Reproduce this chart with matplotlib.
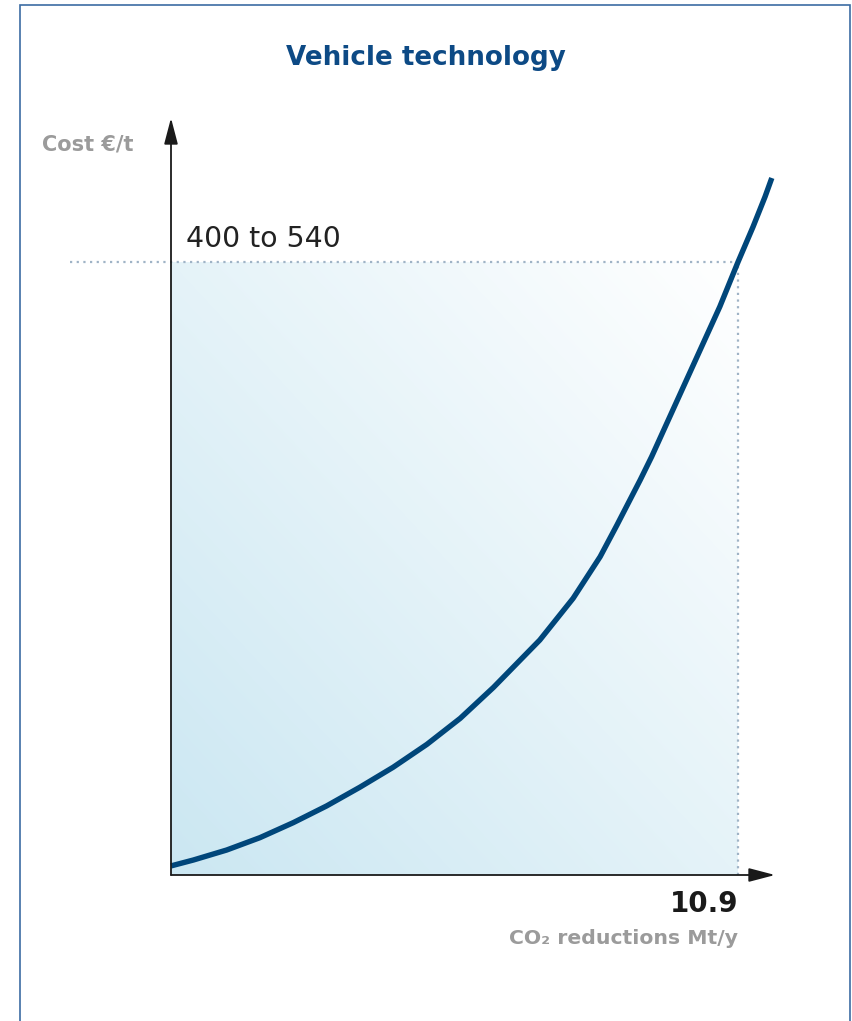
import numpy as np
import matplotlib.pyplot as plt
from matplotlib.patches import Rectangle

# values
co2_reduction = [0, 0.43, 1.07, 1.71, 2.35, 2.99, 3.63, 4.27, 4.92, 5.56, 6.2,
                 7.09, 7.73, 8.25, 8.57, 9.02, 9.24, 9.91, 10.55, 10.9, 11.19,
                 11.42, 11.55]
cost = [8, 13.2, 22, 32.9, 46.1, 60.8, 77.3, 94.9, 115.1, 138, 165.3,
        207, 243.7, 280.4, 308, 348, 368.5, 436.1, 500.6, 540, 571.1,
        597.5, 614]
total_reduction = 10.9
cost_range = (400, 540)

title = "Vehicle technology"
y_label = "Cost €/t"
x_label = "CO\u2082 reductions Mt/y"

W, H = 852, 1021
FONT = "DejaVu Sans"
GREY = "#9b9b9b"
BLUE = "#0d4a85"
CURVE = "#00467a"


def fx(px):
    return px / W


def fy(py):
    return 1 - py / H


fig = plt.figure(figsize=(W / 100, H / 100), dpi=100)

# axes placed so that 0 sits at px (171, 875) and the arrows end at 775 / 118
x0, y0 = 171, 875
x1, y1 = 775, 118
ax = fig.add_axes([fx(x0), fy(y0), (x1 - x0) / W, (y0 - y1) / H])
px_per_x = (738 - x0) / total_reduction
px_per_y = (y0 - 262) / cost_range[1]
ax.set_xlim(0, (x1 - x0) / px_per_x)
ax.set_ylim(0, (y0 - y1) / px_per_y)
ax.set_axis_off()

# shaded area with a diagonal gradient
n = 200
u, v = np.meshgrid(np.linspace(0, 1, n), np.linspace(0, 1, n))
t = (u + v) / 2
c0 = np.array([203, 231, 242]) / 255
c1 = np.array([1.0, 1.0, 1.0])
img = c0 * (1 - t[..., None]) + c1 * t[..., None]
ax.imshow(img, extent=[0, total_reduction, 0, cost_range[1]], origin="lower",
          aspect="auto", zorder=0, interpolation="bilinear")

# dotted guide lines
dot = dict(color="#9fb3c6", lw=1.6, ls=(0, (1, 2)), clip_on=False, zorder=1)
ax.plot([-101 / px_per_x, total_reduction], [cost_range[1]] * 2, **dot)
ax.plot([total_reduction] * 2, [0, cost_range[1]], **dot)

# the cost curve
ax.plot(co2_reduction, cost, color=CURVE, lw=3.9, solid_capstyle="butt",
        solid_joinstyle="round", zorder=3, clip_on=False)

# axis arrows
arrow = dict(arrowstyle="-|>,head_length=1.6,head_width=0.42", color="#1a1a1a",
             lw=1.3, shrinkA=0, shrinkB=0)
ax.annotate("", xy=(0, ax.get_ylim()[1]), xytext=(0, 0), arrowprops=arrow,
            annotation_clip=False, zorder=4)
ax.annotate("", xy=(ax.get_xlim()[1], 0), xytext=(0, 0), arrowprops=arrow,
            annotation_clip=False, zorder=4)

# texts
fig.text(fx(426), fy(65), title, ha="center", va="baseline", fontsize=18.8,
         fontweight="bold", color=BLUE, family=FONT)
fig.text(fx(42), fy(150), y_label, ha="left", va="baseline", fontsize=15,
         fontweight="bold", color=GREY, family=FONT)
fig.text(fx(186), fy(247), f"{cost_range[0]} to {cost_range[1]}", ha="left",
         va="baseline", fontsize=20.4, color="#222222", family=FONT)
fig.text(fx(738), fy(912), f"{total_reduction}", ha="right", va="baseline",
         fontsize=20, fontweight="bold", color="#1a1a1a", family=FONT)
fig.text(fx(738), fy(944), x_label, ha="right", va="baseline", fontsize=14.7,
         fontweight="bold", color=GREY, family=FONT)

# frame around the panel
fig.patches.append(Rectangle((fx(20), -0.01), fx(830), fy(5) + 0.01,
                             transform=fig.transFigure, fill=False,
                             edgecolor="#3c6ca3", lw=1.2))

fig.savefig("out.png", dpi=100)
